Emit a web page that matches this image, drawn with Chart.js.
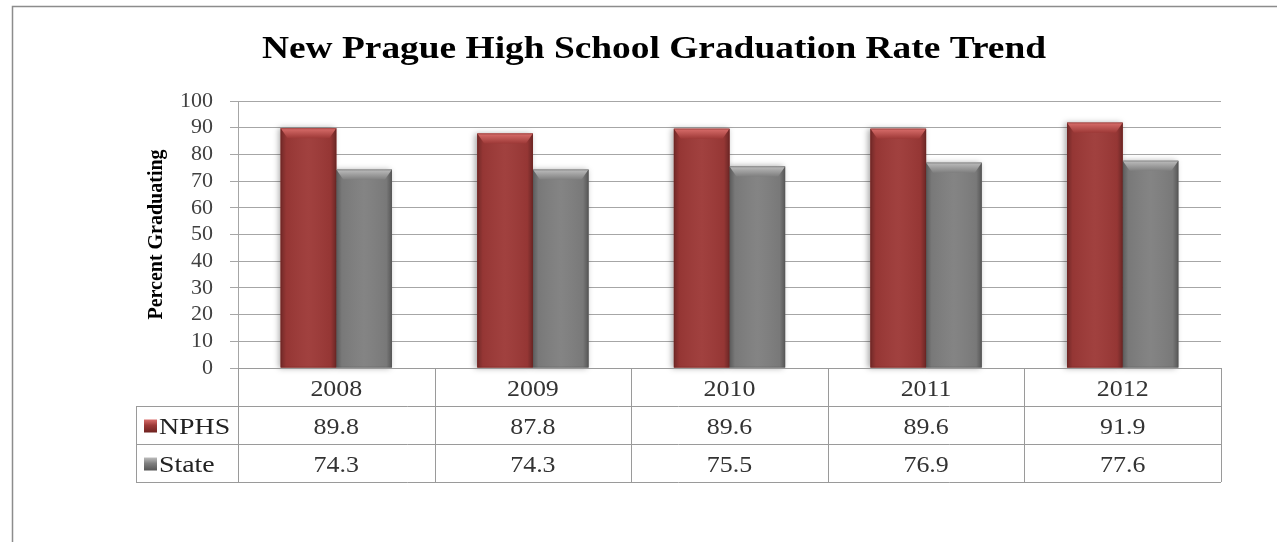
<!DOCTYPE html>
<html lang="en">
<head>
    <meta charset="UTF-8">
    <title>New Prague High School Graduation Rate Trend</title>
    <script src="https://cdn.jsdelivr.net/npm/chart.js"></script>
    <style>
        body { margin: 0; background: #fff; }
        #wrap { width: 1277px; height: 542px; overflow: hidden; }
    </style>
</head>
<body>
    <div id="wrap"><canvas id="chart" width="1277" height="542"></canvas></div>
    <script>
        // --- Data ---
        const years = ['2008', '2009', '2010', '2011', '2012'];
        const nphsRates = [89.8, 87.8, 89.6, 89.6, 91.9];
        const stateRates = [74.3, 74.3, 75.5, 76.9, 77.6];
        const seriesNames = ['NPHS', 'State'];
        const chartTitle = 'New Prague High School Graduation Rate Trend';

        const SERIF = '"Liberation Serif", "Times New Roman", serif';
        const palette = [
            { body: '#9d3937', light: '#d96e6b', dark: '#6e2220' },
            { body: '#7f7f7f', light: '#bdbdbd', dark: '#555555' }
        ];

        function stretchedText(ctx, text, x, y, font, color, align, sx) {
            ctx.save();
            ctx.font = font;
            ctx.fillStyle = color;
            ctx.textAlign = align;
            ctx.textBaseline = 'alphabetic';
            ctx.translate(x, y);
            ctx.scale(sx, 1);
            ctx.fillText(text, 0, 0);
            ctx.restore();
        }

        // outer frame + title
        const framePlugin = {
            id: 'frame',
            beforeDraw(chart) {
                const ctx = chart.ctx;
                ctx.save();
                ctx.strokeStyle = '#8c8c8c';
                ctx.lineWidth = 1.5;
                ctx.strokeRect(12.5, 6.5, 1400, 700);
                ctx.restore();
            },
            afterDraw(chart) {
                const ctx = chart.ctx;
                ctx.save();
                ctx.font = 'bold 32px ' + SERIF;
                const w = ctx.measureText(chartTitle).width;
                ctx.restore();
                stretchedText(ctx, chartTitle, 654, 58, 'bold 32px ' + SERIF, '#000', 'center', 784 / w);
            }
        };

        // bevel / shading on bars
        const bevelPlugin = {
            id: 'bevel',
            beforeDatasetsDraw(chart) {
                const ctx = chart.ctx;
                ctx.save();
                chart.data.datasets.forEach((ds, di) => {
                    chart.getDatasetMeta(di).data.forEach(bar => {
                        ctx.shadowColor = 'rgba(0,0,0,0.35)';
                        ctx.shadowBlur = 6;
                        ctx.shadowOffsetX = -2;
                        ctx.fillStyle = palette[di].body;
                        ctx.fillRect(bar.x - bar.width / 2, bar.y, bar.width, bar.base - bar.y);
                    });
                });
                ctx.restore();
            },
            afterDatasetsDraw(chart) {
                const ctx = chart.ctx;
                ctx.save();
                chart.data.datasets.forEach((ds, di) => {
                    const c = palette[di];
                    chart.getDatasetMeta(di).data.forEach(bar => {
                        const l = bar.x - bar.width / 2, r = bar.x + bar.width / 2;
                        const t = bar.y, b = bar.base;
                        // side shading
                        const g = ctx.createLinearGradient(l, 0, r, 0);
                        g.addColorStop(0, 'rgba(0,0,0,0.28)');
                        g.addColorStop(0.1, 'rgba(0,0,0,0.05)');
                        g.addColorStop(0.5, 'rgba(255,255,255,0.04)');
                        g.addColorStop(0.9, 'rgba(0,0,0,0.05)');
                        g.addColorStop(1, 'rgba(0,0,0,0.32)');
                        ctx.fillStyle = g;
                        ctx.fillRect(l, t, r - l, b - t);
                        // top bevel
                        const bh = 10, inset = 7;
                        const tg = ctx.createLinearGradient(0, t, 0, t + bh);
                        tg.addColorStop(0, c.light);
                        tg.addColorStop(1, c.body);
                        ctx.fillStyle = tg;
                        ctx.beginPath();
                        ctx.moveTo(l, t);
                        ctx.lineTo(r, t);
                        ctx.lineTo(r - inset, t + bh);
                        ctx.lineTo(l + inset, t + bh);
                        ctx.closePath();
                        ctx.fill();
                        ctx.strokeStyle = c.dark;
                        ctx.globalAlpha = 0.35;
                        ctx.lineWidth = 1;
                        ctx.strokeRect(l + 0.5, t + 0.5, r - l - 1, b - t - 1);
                        ctx.globalAlpha = 1;
                    });
                });
                ctx.restore();
            }
        };

        // data table under the plot
        const tablePlugin = {
            id: 'dataTable',
            afterDraw(chart) {
                const ctx = chart.ctx;
                const area = chart.chartArea;
                const xs = chart.scales.x;
                const n = years.length;
                const colW = (area.right - area.left) / n;
                const rowH = 38;
                const top = area.bottom;
                const legendLeft = 136;
                const font = '24px ' + SERIF;
                const sx = 1.08;
                const rows = [nphsRates, stateRates];

                ctx.save();
                ctx.strokeStyle = '#9a9a9a';
                ctx.lineWidth = 1;
                ctx.beginPath();
                // horizontal lines
                ctx.moveTo(area.left, top + 0.5); ctx.lineTo(area.right, top + 0.5);
                for (let r = 1; r <= 3; r++) {
                    const y = Math.round(top + r * rowH) + 0.5;
                    ctx.moveTo(legendLeft, y); ctx.lineTo(area.right, y);
                }
                // vertical lines
                ctx.moveTo(legendLeft + 0.5, top + rowH); ctx.lineTo(legendLeft + 0.5, top + 3 * rowH);
                for (let i = 0; i <= n; i++) {
                    const x = Math.round(area.left + i * colW) + 0.5;
                    ctx.moveTo(x, top); ctx.lineTo(x, top + 3 * rowH);
                }
                ctx.stroke();
                ctx.restore();

                years.forEach((yr, i) => {
                    const cx = xs.getPixelForValue(i);
                    stretchedText(ctx, yr, cx, top + rowH - 10, font, '#333', 'center', sx);
                    rows.forEach((vals, r) => {
                        stretchedText(ctx, vals[i].toFixed(1), cx, top + (r + 2) * rowH - 10, font, '#333', 'center', sx);
                    });
                });

                seriesNames.forEach((name, r) => {
                    const rowTop = top + (r + 1) * rowH;
                    const c = palette[r];
                    const sq = 13, sxp = 144, syp = rowTop + rowH / 2 - sq / 2 + 1;
                    const g = ctx.createLinearGradient(0, syp, 0, syp + sq);
                    g.addColorStop(0, c.light);
                    g.addColorStop(0.45, c.body);
                    g.addColorStop(1, c.dark);
                    ctx.fillStyle = g;
                    ctx.fillRect(sxp, syp, sq, sq);
                    stretchedText(ctx, name, 159, rowTop + rowH - 10, font, '#222', 'left', 1.16);
                });
            }
        };

        new Chart(document.getElementById('chart'), {
            type: 'bar',
            data: {
                labels: years,
                datasets: [
                    { label: seriesNames[0], data: nphsRates, backgroundColor: palette[0].body },
                    { label: seriesNames[1], data: stateRates, backgroundColor: palette[1].body }
                ]
            },
            options: {
                responsive: false,
                devicePixelRatio: 1,
                animation: false,
                categoryPercentage: 0.566,
                barPercentage: 1,
                layout: { padding: { left: 140, right: 56, top: 101, bottom: 174 } },
                plugins: {
                    legend: { display: false },
                    title: { display: false },
                    tooltip: { enabled: false }
                },
                scales: {
                    x: {
                        grid: { display: false, drawTicks: false },
                        border: { display: false },
                        ticks: { display: false },
                        afterFit: s => { s.height = 0; }
                    },
                    y: {
                        min: 0,
                        max: 100,
                        ticks: {
                            stepSize: 10,
                            autoSkip: false,
                            padding: 17,
                            color: '#404040',
                            font: { family: SERIF, size: 22 }
                        },
                        grid: { color: '#a6a6a6', tickLength: 8, lineWidth: 1 },
                        border: { color: '#a6a6a6' },
                        title: {
                            display: true,
                            text: 'Percent Graduating',
                            color: '#000',
                            font: { family: SERIF, size: 20, weight: 'bold' },
                            padding: { top: 5, bottom: 0 }
                        },
                        afterFit: s => { s.width = 98; }
                    }
                }
            },
            plugins: [framePlugin, bevelPlugin, tablePlugin]
        });
    </script>
</body>
</html>
